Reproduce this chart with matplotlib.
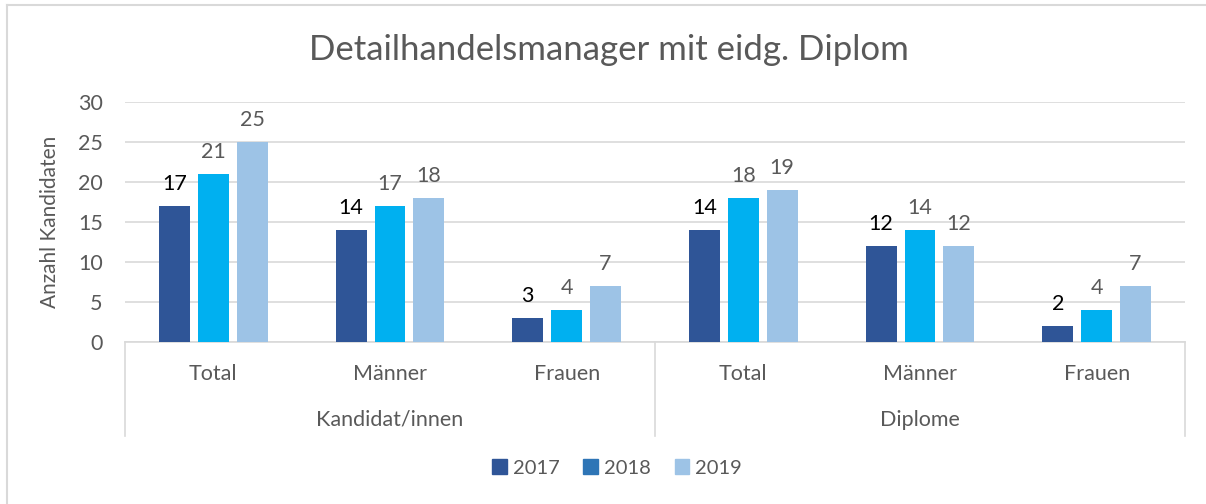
import matplotlib.pyplot as plt
from matplotlib.lines import Line2D
from matplotlib.patches import Patch

plt.rcParams['font.family'] = ['Lato', 'DejaVu Sans']

years = ['2017', '2018', '2019']
subgroups = ['Total', 'Männer', 'Frauen', 'Total', 'Männer', 'Frauen']
groups = ['Kandidat/innen', 'Diplome']
values = {
    '2017': [17, 14, 3, 14, 12, 2],
    '2018': [21, 17, 4, 18, 14, 4],
    '2019': [25, 18, 7, 19, 12, 7],
}
bar_colors = ['#2F5597', '#00B0F0', '#9DC3E6']
legend_colors = ['#2F5597', '#2E75B6', '#9DC3E6']
label_colors = ['#000000', '#595959', '#595959']

W, H = 1206, 504
fs = 15.5
fig = plt.figure(figsize=(W / 100, H / 100), dpi=100)

# chart border (Excel chart area)
fig.add_artist(Line2D([7 / W, 7 / W], [0, 1 - 5 / H], color='#D9D9D9', lw=1.5))
fig.add_artist(Line2D([7 / W, 1], [1 - 5 / H, 1 - 5 / H], color='#D9D9D9', lw=1.5))

left, right, top, bottom = 125, 1185, 102, 342
ax = fig.add_axes([left / W, 1 - bottom / H, (right - left) / W, (bottom - top) / H])

n = len(subgroups)
x = [i + 0.5 for i in range(n)]
step = 0.22
width = 0.175
for k, yr in enumerate(years):
    xs = [xi + (k - 1) * step for xi in x]
    bars = ax.bar(xs, values[yr], width=width, color=bar_colors[k], zorder=3)
    for b, v in zip(bars, values[yr]):
        ax.text(b.get_x() + b.get_width() / 2, v + 1.5, str(v), ha='center', va='bottom',
                fontsize=fs, color=label_colors[k])

ax.set_xlim(0, n)
ax.set_ylim(0, 30)
ax.set_yticks(range(0, 31, 5))
ax.tick_params(axis='y', length=0, labelsize=fs, labelcolor='#595959', pad=16)
ax.set_xticks([])
ax.grid(axis='y', color='#D9D9D9', lw=1.2, zorder=0)
for s in ['top', 'right', 'left']:
    ax.spines[s].set_visible(False)
ax.spines['bottom'].set_color('#D9D9D9')
ax.spines['bottom'].set_linewidth(1.2)
ax.set_ylabel('Anzahl Kandidaten', fontsize=15, color='#595959')
ax.yaxis.set_label_coords((60 - left) / (right - left), 0.5)

# multi-level category axis
trans = ax.get_xaxis_transform()
for xi, lab in zip(x, subgroups):
    ax.text(xi, -0.135, lab, transform=trans, ha='center', va='center',
            fontsize=fs, color='#595959')
for g, lab in enumerate(groups):
    ax.text(g * 3 + 1.5, -0.325, lab, transform=trans, ha='center', va='center',
            fontsize=fs, color='#595959')
for xb in [0, 3, 6]:
    ax.add_line(Line2D([xb, xb], [0, -0.39], transform=trans, color='#D9D9D9',
                       lw=1.2, clip_on=False))

fig.text(609 / W, 1 - 50 / H, 'Detailhandelsmanager mit eidg. Diplom', ha='center',
         va='center', fontsize=25, color='#595959')

handles = [Patch(color=c) for c in legend_colors]
fig.legend(handles, years, loc='center', bbox_to_anchor=(617 / W, 1 - 468 / H), ncol=3,
           frameon=False, fontsize=14.5, labelcolor='#595959', handlelength=0.7,
           handleheight=0.7, handletextpad=0.3, columnspacing=1.2)

fig.savefig('out.png', dpi=100)
